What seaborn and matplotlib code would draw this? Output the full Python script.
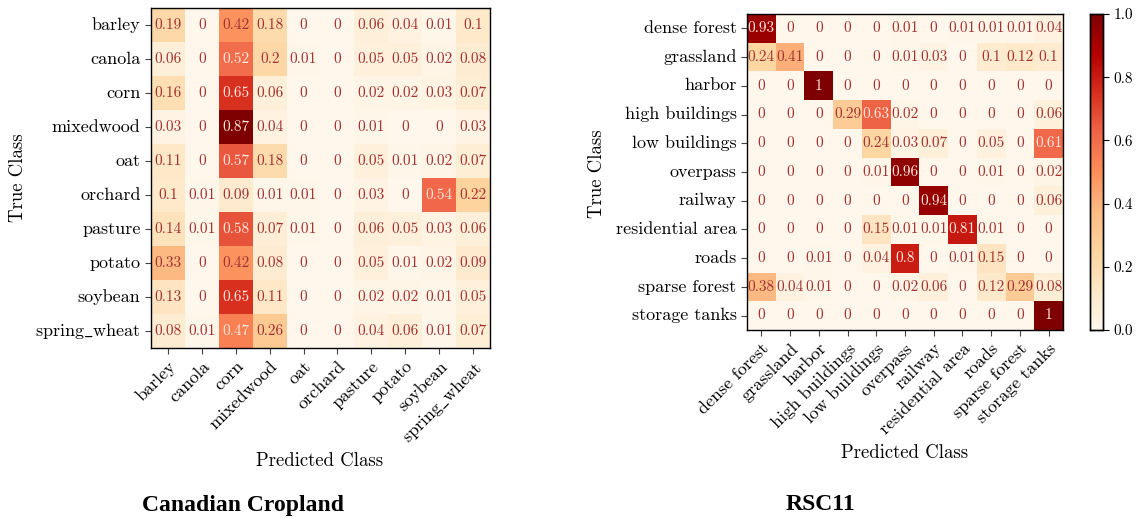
import numpy as np
import pandas as pd
import matplotlib
matplotlib.use("Agg")
import matplotlib.pyplot as plt
import seaborn as sns

sns.set_style("white")
plt.rcParams['font.family'] = ['cmr10', 'DejaVu Serif']
plt.rcParams['mathtext.fontset'] = 'cm'
plt.rcParams['axes.formatter.use_mathtext'] = True
for k in ['text.color', 'axes.labelcolor', 'xtick.color', 'ytick.color']:
    plt.rcParams[k] = 'black'

crop_labels = ["barley", "canola", "corn", "mixedwood", "oat", "orchard",
               "pasture", "potato", "soybean", "spring_wheat"]
crop_values = [
    [0.19, 0, 0.42, 0.18, 0, 0, 0.06, 0.04, 0.01, 0.1],
    [0.06, 0, 0.52, 0.2, 0.01, 0, 0.05, 0.05, 0.02, 0.08],
    [0.16, 0, 0.65, 0.06, 0, 0, 0.02, 0.02, 0.03, 0.07],
    [0.03, 0, 0.87, 0.04, 0, 0, 0.01, 0, 0, 0.03],
    [0.11, 0, 0.57, 0.18, 0, 0, 0.05, 0.01, 0.02, 0.07],
    [0.1, 0.01, 0.09, 0.01, 0.01, 0, 0.03, 0, 0.54, 0.22],
    [0.14, 0.01, 0.58, 0.07, 0.01, 0, 0.06, 0.05, 0.03, 0.06],
    [0.33, 0, 0.42, 0.08, 0, 0, 0.05, 0.01, 0.02, 0.09],
    [0.13, 0, 0.65, 0.11, 0, 0, 0.02, 0.02, 0.01, 0.05],
    [0.08, 0.01, 0.47, 0.26, 0, 0, 0.04, 0.06, 0.01, 0.07],
]

rsc_labels = ["dense forest", "grassland", "harbor", "high buildings",
              "low buildings", "overpass", "railway", "residential area",
              "roads", "sparse forest", "storage tanks"]
rsc_values = [
    [0.93, 0, 0, 0, 0, 0.01, 0, 0.01, 0.01, 0.01, 0.04],
    [0.24, 0.41, 0, 0, 0, 0.01, 0.03, 0, 0.1, 0.12, 0.1],
    [0, 0, 1, 0, 0, 0, 0, 0, 0, 0, 0],
    [0, 0, 0, 0.29, 0.63, 0.02, 0, 0, 0, 0, 0.06],
    [0, 0, 0, 0, 0.24, 0.03, 0.07, 0, 0.05, 0, 0.61],
    [0, 0, 0, 0, 0.01, 0.96, 0, 0, 0.01, 0, 0.02],
    [0, 0, 0, 0, 0, 0, 0.94, 0, 0, 0, 0.06],
    [0, 0, 0, 0, 0.15, 0.01, 0.01, 0.81, 0.01, 0, 0],
    [0, 0, 0.01, 0, 0.04, 0.8, 0, 0.01, 0.15, 0, 0],
    [0.38, 0.04, 0.01, 0, 0, 0.02, 0.06, 0, 0.12, 0.29, 0.08],
    [0, 0, 0, 0, 0, 0, 0, 0, 0, 0, 1],
]

W, H = 1138, 518
fig = plt.figure(figsize=(W / 100, H / 100), dpi=100)

def px_axes(x0, y0, x1, y1):
    return fig.add_axes([x0 / W, 1 - y1 / H, (x1 - x0) / W, (y1 - y0) / H])

ax1 = px_axes(151, 8, 490, 348)
ax2 = px_axes(747, 14, 1063, 330)
cax = px_axes(1090, 14, 1103, 330)

dark_txt = '#a33232'
light_txt = '#fde6dc'

def tex_label(l):
    if '_' in l:
        a, b = l.split('_', 1)
        return r'$\mathrm{' + a + r'}\_\mathrm{' + b + '}$'
    return l

def draw(ax, labels, values, vmax, cbar, cbar_ax=None):
    df = pd.DataFrame(values, index=labels, columns=labels)
    tick_lbls = [tex_label(l) for l in labels]
    kw = dict(cmap='OrRd', vmin=0, vmax=vmax, annot=True, fmt='g',
              annot_kws={'fontsize': 11}, ax=ax, cbar=cbar,
              xticklabels=tick_lbls, yticklabels=tick_lbls)
    if cbar:
        kw['cbar_ax'] = cbar_ax
    sns.heatmap(df, **kw)
    flat = np.array(values).flatten()
    for t, v in zip(ax.texts, flat):
        t.set_color(light_txt if v > 0.5 * vmax else dark_txt)
    for s in ax.spines.values():
        s.set_visible(True)
        s.set_linewidth(1.0)
        s.set_color('black')
    ax.tick_params(axis='both', which='both', length=4, width=0.8,
                   color='#444444', labelsize=13, left=True, bottom=True)
    plt.setp(ax.get_xticklabels(), rotation=45, ha='right',
             rotation_mode='anchor')
    plt.setp(ax.get_yticklabels(), rotation=0)
    ax.set_xlabel('')
    ax.set_ylabel('')

draw(ax1, crop_labels, crop_values, max(max(r) for r in crop_values), False)
draw(ax2, rsc_labels, rsc_values, 1.0, True, cax)

cax.tick_params(labelsize=11, length=4, width=0.8)
cax.set_yticks([0, 0.2, 0.4, 0.6, 0.8, 1.0])
cax.set_yticklabels(['0.0', '0.2', '0.4', '0.6', '0.8', '1.0'])
for s in cax.spines.values():
    s.set_visible(True)
    s.set_linewidth(1.0)
    s.set_color('black')

def ftext(x, y, s, **kw):
    fig.text(x / W, 1 - y / H, s, ha='center', va='center', **kw)

ftext(18, 178, 'True Class', rotation=90, fontsize=13.5)
ftext(320, 461, 'Predicted Class', fontsize=13.5)
ftext(597, 174, 'True Class', rotation=90, fontsize=13.5)
ftext(905, 453, 'Predicted Class', fontsize=13.5)
ftext(243, 505, 'Canadian Cropland', fontsize=17, fontweight='bold',
      family='Liberation Serif')
ftext(820, 505, 'RSC11', fontsize=17, fontweight='bold',
      family='Liberation Serif')

fig.savefig('out.png', dpi=100)
